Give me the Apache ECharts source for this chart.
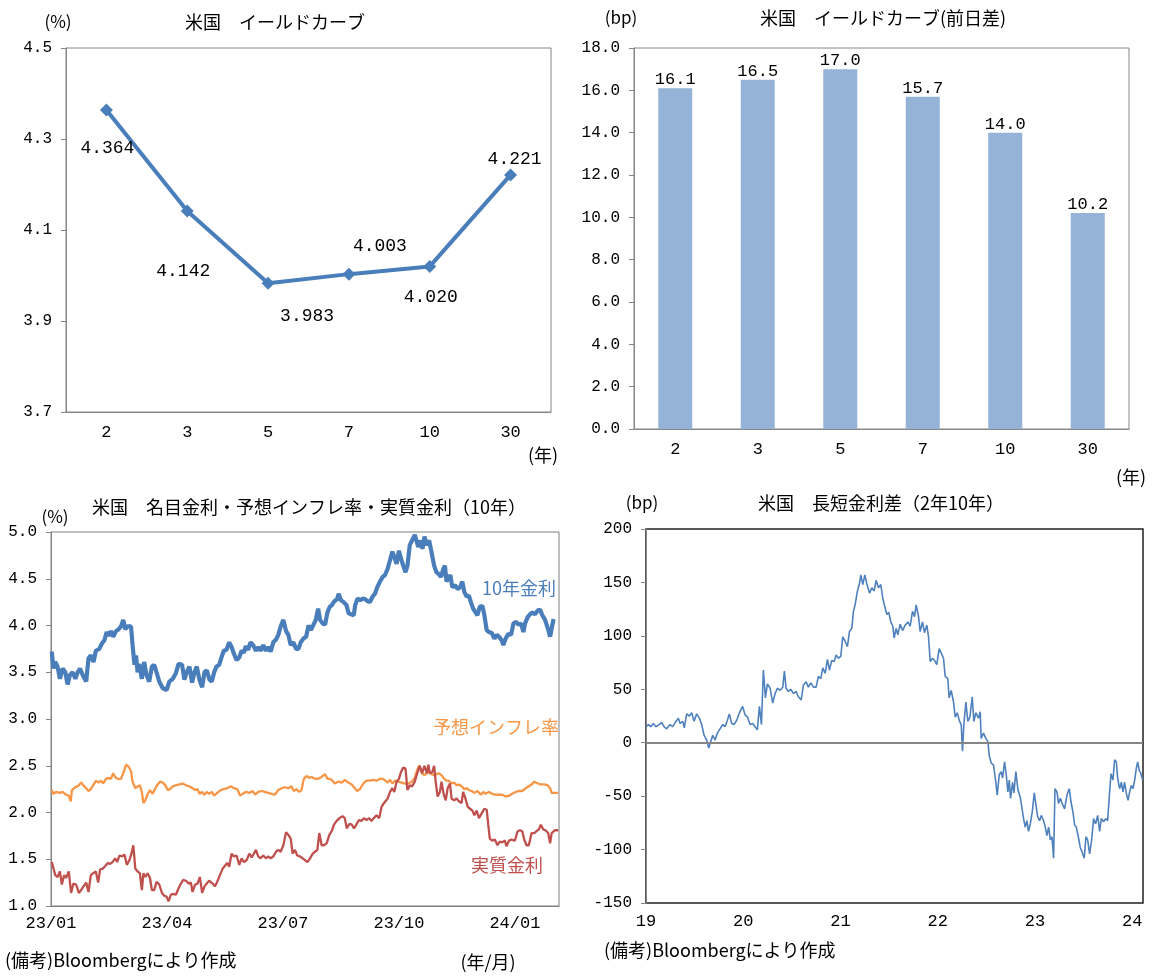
<!DOCTYPE html>
<html>
<head>
<meta charset="UTF-8">
<title>米国 金利</title>
<script src="https://cdn.jsdelivr.net/npm/echarts@6.0.0/dist/echarts.min.js"></script>
<style>
  html, body { margin: 0; padding: 0; background: #fff; }
  #main { width: 1153px; height: 976px; }
</style>
</head>
<body>
<div id="main"></div>
<script>
// イールドカーブ（年限別）
var tenors = ['2', '3', '5', '7', '10', '30'];
var curveYield = [4.364, 4.142, 3.983, 4.003, 4.020, 4.221];
var curveChangeBp = [16.1, 16.5, 17.0, 15.7, 14.0, 10.2];

// 10年: 名目金利・予想インフレ率・実質金利  [月(23/01始点からの月数), %]
var nominal10y = [
  [0.02,3.72],[0.06,3.54],[0.11,3.61],[0.17,3.56],[0.23,3.43],[0.30,3.54],[0.37,3.50],[0.43,3.37],[0.49,3.47],[0.56,3.50],
  [0.63,3.43],[0.69,3.50],[0.75,3.54],[0.82,3.47],[0.91,3.40],[0.97,3.65],[1.03,3.68],[1.10,3.61],[1.16,3.73],[1.25,3.75],
  [1.32,3.81],[1.38,3.84],[1.44,3.93],[1.49,3.89],[1.55,3.94],[1.61,3.88],[1.68,3.94],[1.75,3.96],[1.81,3.99],[1.87,4.06],
  [1.92,3.96],[1.98,3.99],[2.07,3.99],[2.11,3.79],[2.16,3.58],[2.20,3.68],[2.24,3.50],[2.28,3.59],[2.35,3.43],[2.41,3.61],
  [2.47,3.47],[2.54,3.40],[2.61,3.56],[2.67,3.58],[2.73,3.50],[2.80,3.40],[2.89,3.33],[2.99,3.31],[3.06,3.40],[3.15,3.43],
  [3.23,3.49],[3.30,3.59],[3.39,3.58],[3.45,3.42],[3.51,3.50],[3.58,3.56],[3.65,3.39],[3.71,3.50],[3.77,3.56],[3.84,3.42],
  [3.91,3.34],[3.97,3.50],[4.03,3.52],[4.10,3.42],[4.16,3.40],[4.22,3.50],[4.28,3.56],[4.35,3.58],[4.41,3.66],[4.47,3.73],
  [4.54,3.74],[4.61,3.82],[4.67,3.77],[4.73,3.70],[4.80,3.63],[4.87,3.66],[4.93,3.73],[4.99,3.71],[5.04,3.78],[5.10,3.74],
  [5.16,3.82],[5.23,3.79],[5.30,3.73],[5.36,3.77],[5.42,3.73],[5.49,3.79],[5.56,3.73],[5.62,3.77],[5.68,3.72],[5.75,3.82],
  [5.82,3.85],[5.88,3.90],[5.94,3.99],[6.01,4.06],[6.08,3.94],[6.14,3.90],[6.20,3.79],[6.27,3.82],[6.34,3.75],[6.40,3.75],
  [6.46,3.82],[6.53,3.86],[6.60,3.88],[6.66,4.00],[6.72,3.95],[6.78,4.00],[6.85,4.06],[6.91,4.18],[6.96,4.06],[7.03,4.02],
  [7.09,4.01],[7.15,4.14],[7.21,4.20],[7.27,4.22],[7.33,4.26],[7.40,4.28],[7.44,4.34],[7.50,4.27],[7.57,4.25],[7.64,4.22],
  [7.70,4.13],[7.76,4.12],[7.83,4.11],[7.87,4.22],[7.93,4.29],[8.00,4.27],[8.07,4.29],[8.13,4.28],[8.19,4.26],[8.25,4.25],
  [8.32,4.31],[8.38,4.34],[8.44,4.41],[8.51,4.47],[8.58,4.52],[8.64,4.54],[8.71,4.61],[8.77,4.70],[8.83,4.79],[8.88,4.73],
  [8.94,4.66],[9.00,4.80],[9.05,4.72],[9.11,4.64],[9.17,4.57],[9.22,4.64],[9.28,4.86],[9.34,4.91],[9.41,4.97],[9.46,4.98],
  [9.50,4.84],[9.56,4.91],[9.61,4.82],[9.66,4.95],[9.72,4.86],[9.78,4.91],[9.84,4.79],[9.91,4.64],[9.97,4.57],[10.03,4.55],
  [10.09,4.52],[10.15,4.61],[10.19,4.64],[10.23,4.47],[10.28,4.45],[10.33,4.54],[10.38,4.41],[10.45,4.43],[10.52,4.39],[10.58,4.41],
  [10.64,4.47],[10.69,4.36],[10.75,4.31],[10.81,4.32],[10.86,4.25],[10.92,4.18],[10.98,4.14],[11.03,4.11],[11.09,4.20],[11.16,4.21],
  [11.21,4.11],[11.27,3.95],[11.33,3.93],[11.40,3.92],[11.47,3.86],[11.53,3.90],[11.59,3.88],[11.66,3.84],[11.70,3.79],[11.76,3.86],
  [11.83,3.91],[11.90,3.90],[11.96,4.02],[12.02,4.04],[12.09,4.01],[12.16,4.02],[12.22,3.93],[12.26,4.02],[12.33,4.09],[12.39,4.12],
  [12.45,4.14],[12.52,4.12],[12.59,4.16],[12.65,4.17],[12.71,4.11],[12.78,4.06],[12.85,3.97],[12.91,3.88],[12.95,3.97],[13.00,4.07]
];
var breakeven10y = [
  [0.02,2.24],[0.06,2.20],[0.13,2.22],[0.22,2.21],[0.30,2.22],[0.39,2.19],[0.46,2.18],[0.51,2.12],[0.54,2.24],[0.63,2.27],
  [0.72,2.29],[0.78,2.32],[0.84,2.29],[0.91,2.26],[0.97,2.23],[1.03,2.25],[1.09,2.29],[1.16,2.34],[1.23,2.32],[1.29,2.34],
  [1.35,2.31],[1.42,2.36],[1.49,2.37],[1.55,2.36],[1.61,2.42],[1.66,2.38],[1.72,2.36],[1.81,2.36],[1.87,2.42],[1.94,2.51],
  [2.01,2.49],[2.07,2.44],[2.11,2.33],[2.18,2.26],[2.24,2.28],[2.30,2.29],[2.35,2.22],[2.39,2.10],[2.44,2.13],[2.50,2.20],
  [2.56,2.24],[2.63,2.20],[2.70,2.26],[2.76,2.30],[2.82,2.33],[2.89,2.32],[2.96,2.29],[3.02,2.24],[3.08,2.25],[3.15,2.28],
  [3.23,2.29],[3.32,2.30],[3.41,2.31],[3.49,2.29],[3.58,2.28],[3.66,2.26],[3.73,2.24],[3.79,2.25],[3.84,2.20],[3.91,2.22],
  [3.97,2.19],[4.03,2.22],[4.09,2.20],[4.16,2.22],[4.22,2.18],[4.30,2.21],[4.39,2.24],[4.47,2.25],[4.56,2.26],[4.65,2.28],
  [4.73,2.26],[4.82,2.25],[4.89,2.18],[4.96,2.20],[5.04,2.22],[5.13,2.21],[5.22,2.23],[5.28,2.19],[5.36,2.22],[5.45,2.23],
  [5.53,2.22],[5.62,2.21],[5.71,2.20],[5.79,2.19],[5.88,2.24],[5.97,2.26],[6.05,2.27],[6.14,2.26],[6.22,2.28],[6.28,2.23],
  [6.35,2.25],[6.42,2.22],[6.48,2.24],[6.54,2.36],[6.61,2.39],[6.68,2.37],[6.74,2.38],[6.83,2.36],[6.91,2.36],[7.00,2.38],
  [7.09,2.41],[7.15,2.36],[7.22,2.36],[7.28,2.34],[7.34,2.31],[7.43,2.33],[7.52,2.32],[7.60,2.35],[7.69,2.32],[7.78,2.30],
  [7.86,2.26],[7.92,2.23],[7.99,2.25],[8.08,2.31],[8.16,2.34],[8.25,2.34],[8.34,2.35],[8.42,2.34],[8.51,2.36],[8.59,2.36],
  [8.71,2.32],[8.77,2.35],[8.83,2.31],[8.90,2.34],[8.98,2.33],[9.07,2.32],[9.16,2.31],[9.24,2.31],[9.33,2.33],[9.40,2.36],
  [9.46,2.44],[9.52,2.50],[9.59,2.42],[9.66,2.40],[9.72,2.42],[9.78,2.43],[9.84,2.41],[9.91,2.40],[9.97,2.41],[10.03,2.42],
  [10.10,2.40],[10.17,2.36],[10.23,2.34],[10.29,2.34],[10.36,2.31],[10.43,2.32],[10.49,2.29],[10.55,2.30],[10.62,2.28],[10.69,2.25],
  [10.75,2.26],[10.81,2.24],[10.88,2.23],[10.95,2.21],[11.03,2.23],[11.12,2.19],[11.18,2.22],[11.24,2.20],[11.33,2.22],[11.41,2.20],
  [11.50,2.19],[11.59,2.19],[11.67,2.19],[11.76,2.17],[11.85,2.18],[11.93,2.20],[12.02,2.22],[12.10,2.23],[12.19,2.23],[12.28,2.26],
  [12.36,2.28],[12.43,2.30],[12.50,2.33],[12.59,2.31],[12.67,2.30],[12.76,2.30],[12.85,2.29],[12.91,2.26],[12.95,2.21],[13.03,2.21],
  [13.12,2.21]
];
var real10y = [
  [0.02,1.47],[0.06,1.47],[0.11,1.33],[0.17,1.31],[0.23,1.37],[0.28,1.23],[0.34,1.33],[0.39,1.30],[0.46,1.37],[0.52,1.14],
  [0.58,1.24],[0.65,1.23],[0.72,1.14],[0.78,1.17],[0.84,1.21],[0.91,1.25],[0.97,1.15],[1.03,1.33],[1.09,1.35],[1.16,1.37],
  [1.22,1.25],[1.27,1.39],[1.34,1.40],[1.41,1.43],[1.47,1.46],[1.53,1.45],[1.59,1.47],[1.66,1.51],[1.71,1.47],[1.77,1.54],
  [1.84,1.53],[1.90,1.55],[1.96,1.44],[2.03,1.49],[2.08,1.56],[2.13,1.65],[2.18,1.40],[2.24,1.37],[2.30,1.35],[2.35,1.17],
  [2.39,1.35],[2.44,1.31],[2.50,1.35],[2.56,1.30],[2.61,1.17],[2.67,1.17],[2.73,1.26],[2.80,1.23],[2.87,1.14],[2.93,1.11],
  [2.99,1.10],[3.04,1.05],[3.10,1.12],[3.16,1.13],[3.23,1.12],[3.30,1.19],[3.36,1.24],[3.42,1.28],[3.49,1.27],[3.56,1.24],
  [3.62,1.25],[3.66,1.15],[3.73,1.23],[3.79,1.24],[3.85,1.31],[3.91,1.14],[3.97,1.21],[4.03,1.24],[4.09,1.27],[4.18,1.24],
  [4.24,1.21],[4.30,1.26],[4.37,1.33],[4.44,1.40],[4.50,1.43],[4.56,1.46],[4.61,1.42],[4.67,1.56],[4.73,1.53],[4.80,1.54],
  [4.87,1.44],[4.93,1.51],[4.99,1.47],[5.06,1.49],[5.13,1.56],[5.19,1.52],[5.25,1.56],[5.30,1.60],[5.36,1.53],[5.42,1.51],
  [5.49,1.54],[5.56,1.51],[5.62,1.53],[5.68,1.51],[5.75,1.53],[5.82,1.58],[5.88,1.60],[5.94,1.58],[6.01,1.65],[6.08,1.79],
  [6.14,1.76],[6.20,1.72],[6.25,1.56],[6.31,1.60],[6.37,1.54],[6.44,1.53],[6.51,1.51],[6.57,1.49],[6.63,1.47],[6.70,1.51],
  [6.77,1.56],[6.83,1.58],[6.89,1.60],[6.94,1.78],[7.00,1.65],[7.06,1.65],[7.13,1.67],[7.20,1.76],[7.26,1.80],[7.32,1.87],
  [7.39,1.91],[7.46,1.94],[7.54,1.96],[7.60,1.94],[7.65,1.83],[7.72,1.88],[7.78,1.87],[7.84,1.83],[7.91,1.88],[7.97,1.92],
  [8.03,1.91],[8.09,1.94],[8.16,1.92],[8.23,1.94],[8.29,1.91],[8.35,1.94],[8.42,1.97],[8.49,1.94],[8.55,2.06],[8.61,2.10],
  [8.71,2.15],[8.77,2.22],[8.83,2.26],[8.88,2.22],[8.94,2.33],[9.00,2.36],[9.05,2.43],[9.11,2.48],[9.17,2.47],[9.22,2.24],
  [9.28,2.29],[9.34,2.28],[9.41,2.33],[9.48,2.43],[9.54,2.50],[9.60,2.42],[9.66,2.50],[9.72,2.42],[9.76,2.51],[9.80,2.42],
  [9.86,2.43],[9.91,2.50],[9.95,2.33],[10.00,2.17],[10.06,2.22],[10.10,2.33],[10.16,2.19],[10.21,2.13],[10.26,2.26],[10.32,2.31],
  [10.36,2.15],[10.43,2.13],[10.49,2.15],[10.55,2.12],[10.62,2.10],[10.66,2.22],[10.72,2.15],[10.78,2.06],[10.84,2.04],[10.90,2.02],
  [10.95,1.97],[11.01,2.02],[11.07,1.94],[11.14,1.99],[11.21,2.04],[11.27,2.03],[11.31,1.87],[11.35,1.72],[11.41,1.70],[11.48,1.71],
  [11.55,1.65],[11.61,1.69],[11.67,1.68],[11.74,1.70],[11.78,1.64],[11.85,1.70],[11.91,1.71],[12.00,1.70],[12.07,1.80],[12.13,1.81],
  [12.19,1.80],[12.24,1.71],[12.30,1.65],[12.36,1.65],[12.43,1.78],[12.50,1.78],[12.56,1.80],[12.62,1.82],[12.67,1.87],[12.73,1.82],
  [12.79,1.81],[12.86,1.78],[12.91,1.67],[12.95,1.78],[13.03,1.81],[13.12,1.81]
];

// 長短金利差（2年10年）  [年, bp]
var spread2s10s = [
  [2019.000,15],[2019.024,17],[2019.048,15],[2019.075,18],[2019.103,15],[2019.137,17],[2019.161,19],[2019.185,15],[2019.213,13],[2019.247,17],
  [2019.274,15],[2019.309,20],[2019.333,23],[2019.350,18],[2019.377,20],[2019.394,14],[2019.418,27],[2019.446,25],[2019.470,28],[2019.494,20],
  [2019.521,27],[2019.549,23],[2019.573,17],[2019.597,7],[2019.624,2.5],[2019.645,-5],[2019.665,1],[2019.686,7],[2019.710,2.5],[2019.734,9],
  [2019.761,13],[2019.789,17],[2019.813,15],[2019.837,21],[2019.857,27],[2019.881,18],[2019.905,17],[2019.933,21],[2019.960,28],[2019.994,34],
  [2020.019,26],[2020.043,24],[2020.070,17],[2020.097,18],[2020.121,15],[2020.145,12],[2020.166,34],[2020.187,17],[2020.207,68],[2020.228,42],
  [2020.248,55],[2020.276,51],[2020.303,37],[2020.327,46],[2020.351,51],[2020.379,49],[2020.406,52],[2020.423,67],[2020.440,51],[2020.464,48],
  [2020.488,50],[2020.516,46],[2020.543,48],[2020.567,43],[2020.595,40],[2020.619,54],[2020.646,57],[2020.670,52],[2020.694,56],[2020.722,52],
  [2020.749,52],[2020.773,62],[2020.797,60],[2020.818,70],[2020.842,65],[2020.866,78],[2020.886,68],[2020.910,77],[2020.934,76],[2020.955,82],
  [2020.979,79],[2021.003,81],[2021.023,99],[2021.047,95],[2021.071,90],[2021.092,104],[2021.116,107],[2021.133,123],[2021.150,129],[2021.174,142],
  [2021.195,149],[2021.209,157],[2021.229,148],[2021.250,157],[2021.270,149],[2021.298,140],[2021.322,145],[2021.346,142],[2021.366,152],[2021.390,145],
  [2021.414,148],[2021.435,135],[2021.459,126],[2021.476,120],[2021.497,122],[2021.517,113],[2021.538,109],[2021.551,98],[2021.572,107],[2021.589,101],
  [2021.613,111],[2021.637,105],[2021.665,110],[2021.692,113],[2021.716,109],[2021.740,123],[2021.761,118],[2021.778,129],[2021.802,118],[2021.819,104],
  [2021.843,113],[2021.863,103],[2021.887,110],[2021.905,99],[2021.922,76],[2021.946,79],[2021.966,77],[2021.990,73],[2022.014,88],[2022.035,84],
  [2022.059,79],[2022.076,62],[2022.103,60],[2022.117,42],[2022.138,49],[2022.162,38],[2022.179,24],[2022.200,28],[2022.224,20],[2022.241,17],
  [2022.254,-8],[2022.268,17],[2022.289,38],[2022.309,20],[2022.330,24],[2022.354,43],[2022.371,20],[2022.392,28],[2022.419,23],[2022.436,29],
  [2022.446,4],[2022.470,9],[2022.494,4],[2022.515,1],[2022.529,-12],[2022.549,-19],[2022.573,-21],[2022.597,-37],[2022.611,-49],[2022.632,-30],
  [2022.652,-27],[2022.666,-33],[2022.687,-18],[2022.704,-30],[2022.721,-46],[2022.735,-35],[2022.748,-52],[2022.769,-37],[2022.783,-47],[2022.803,-27],
  [2022.824,-44],[2022.848,-51],[2022.865,-52],[2022.882,-71],[2022.899,-79],[2022.916,-73],[2022.933,-83],[2022.951,-76],[2022.971,-65],[2022.992,-47],
  [2023.009,-58],[2023.026,-69],[2023.047,-73],[2023.064,-68],[2023.088,-73],[2023.105,-79],[2023.122,-87],[2023.140,-79],[2023.157,-91],[2023.174,-88],
  [2023.191,-108],[2023.205,-43],[2023.225,-46],[2023.242,-57],[2023.260,-52],[2023.284,-58],[2023.304,-62],[2023.328,-49],[2023.352,-43],[2023.369,-55],
  [2023.390,-65],[2023.407,-77],[2023.424,-79],[2023.445,-88],[2023.465,-98],[2023.482,-102],[2023.506,-108],[2023.523,-88],[2023.541,-91],[2023.561,-104],
  [2023.582,-91],[2023.602,-71],[2023.623,-76],[2023.644,-68],[2023.664,-83],[2023.681,-71],[2023.705,-74],[2023.726,-71],[2023.746,-73],[2023.767,-46],
  [2023.781,-29],[2023.801,-35],[2023.818,-16],[2023.836,-18],[2023.849,-33],[2023.870,-43],[2023.887,-37],[2023.904,-46],[2023.921,-37],[2023.938,-47],
  [2023.956,-54],[2023.973,-46],[2023.990,-40],[2024.007,-43],[2024.024,-35],[2024.041,-24],[2024.055,-18],[2024.072,-26],[2024.089,-29],[2024.107,-35]
];

var JP = '"Noto Sans CJK JP", sans-serif';
var NUM = '"Liberation Mono", "DejaVu Sans Mono", monospace';
var GRAY = '#868686';

// ラベルの位置調整（点からのずれ）
var curveLabelShift = [[1, 38], [-4, 60], [39, 33], [31, -28], [1, 31], [4, -16]];

function txt(x, y, s, size, color, align) {
  return {
    type: 'text', x: x, y: y, silent: true,
    style: {
      text: s, fill: color || '#000', font: size + 'px ' + JP,
      textAlign: align || 'center', textVerticalAlign: 'middle',
      align: align || 'center', verticalAlign: 'middle'
    }
  };
}

function valueAxis(grid, min, max, step, fmt) {
  return {
    type: 'value', gridIndex: grid, min: min, max: max, interval: step,
    axisLine: { show: true, lineStyle: { color: GRAY, width: 1 } },
    axisTick: { show: true, inside: false, length: 5, lineStyle: { color: GRAY } },
    splitLine: { show: false },
    axisLabel: { color: '#000', fontFamily: NUM, fontSize: 16, margin: 14, formatter: fmt }
  };
}

function monthLabel(v) {
  var m = Math.round(v);
  if (Math.abs(v - m) > 1e-6 || m % 3 !== 0) return '';
  var yy = 23 + Math.floor(m / 12);
  var mm = (m % 12) + 1;
  return yy + '/' + (mm < 10 ? '0' + mm : mm);
}

function yearLabel(v) {
  var y = Math.round(v);
  if (Math.abs(v - y) > 1e-6) return '';
  return String(y).slice(2);
}

var chart = echarts.init(document.getElementById('main'));

var option = {
  animation: false,
  backgroundColor: '#fff',
  grid: [
    { left: 66, top: 48, width: 485, height: 364, show: true, borderColor: GRAY, borderWidth: 1 },
    { left: 634, top: 48, width: 495, height: 381, show: true, borderColor: GRAY, borderWidth: 1 },
    { left: 51, top: 532, width: 508, height: 374, show: true, borderColor: '#7f7f7f', borderWidth: 1 },
    { left: 646, top: 529, width: 497, height: 374, show: true, borderColor: '#222', borderWidth: 1.5 }
  ],
  xAxis: [
    {
      type: 'category', gridIndex: 0, data: tenors, boundaryGap: true,
      axisLine: { lineStyle: { color: GRAY } }, axisTick: { show: false },
      axisLabel: { color: '#000', fontFamily: NUM, fontSize: 17, margin: 12 }
    },
    {
      type: 'category', gridIndex: 1, data: tenors, boundaryGap: true,
      axisLine: { lineStyle: { color: GRAY } }, axisTick: { show: false },
      axisLabel: { color: '#000', fontFamily: NUM, fontSize: 17, margin: 12 }
    },
    {
      type: 'value', gridIndex: 2, min: 0, max: 13.14, interval: 3,
      axisLine: { lineStyle: { color: '#7f7f7f' } }, axisTick: { show: false },
      splitLine: { show: false },
      axisLabel: { color: '#000', fontFamily: NUM, fontSize: 17, margin: 9, formatter: monthLabel }
    },
    {
      type: 'value', gridIndex: 3, min: 2019, max: 2024.11, interval: 1,
      axisLine: { lineStyle: { color: '#222', width: 1.5 } }, axisTick: { show: false },
      splitLine: { show: false },
      axisLabel: { color: '#000', fontFamily: NUM, fontSize: 17, margin: 10, formatter: yearLabel }
    }
  ],
  yAxis: [
    valueAxis(0, 3.7, 4.5, 0.2, function (v) { return v.toFixed(1); }),
    valueAxis(1, 0, 18, 2, function (v) { return v.toFixed(1); }),
    valueAxis(2, 1.0, 5.0, 0.5, function (v) { return v.toFixed(1); }),
    valueAxis(3, -150, 200, 50, function (v) { return String(v); })
  ],
  series: [
    {
      name: 'イールドカーブ', type: 'line', xAxisIndex: 0, yAxisIndex: 0,
      data: curveYield.map(function (v, i) {
        return { value: v, label: { offset: curveLabelShift[i] } };
      }),
      symbol: 'diamond', symbolSize: 13,
      lineStyle: { color: '#4A7EBB', width: 4 },
      itemStyle: { color: '#4A7EBB' },
      label: {
        show: true, position: 'inside', color: '#000', fontFamily: NUM, fontSize: 18,
        formatter: function (p) { return p.value.toFixed(3); }
      },
      z: 3
    },
    {
      name: '前日差', type: 'bar', xAxisIndex: 1, yAxisIndex: 1,
      data: curveChangeBp, barWidth: 34,
      itemStyle: { color: '#95B3D7' },
      label: {
        show: true, position: 'top', distance: 0, color: '#000', fontFamily: NUM, fontSize: 17,
        formatter: function (p) { return p.value.toFixed(1); }
      }
    },
    {
      name: '10年金利', type: 'line', xAxisIndex: 2, yAxisIndex: 2,
      data: nominal10y, showSymbol: false, symbol: 'none',
      lineStyle: { color: '#4A7EBB', width: 4.2 }
    },
    {
      name: '予想インフレ率', type: 'line', xAxisIndex: 2, yAxisIndex: 2,
      data: breakeven10y, showSymbol: false, symbol: 'none',
      lineStyle: { color: '#F79646', width: 2.3 }
    },
    {
      name: '実質金利', type: 'line', xAxisIndex: 2, yAxisIndex: 2,
      data: real10y, showSymbol: false, symbol: 'none',
      lineStyle: { color: '#C0504D', width: 2.3 }
    },
    {
      name: '長短金利差', type: 'line', xAxisIndex: 3, yAxisIndex: 3,
      data: spread2s10s, showSymbol: false, symbol: 'none',
      lineStyle: { color: '#4F81BD', width: 1.6 },
      markLine: {
        silent: true, symbol: ['none', 'none'], label: { show: false },
        lineStyle: { color: GRAY, width: 2, type: 'solid' },
        data: [{ yAxis: 0 }]
      }
    }
  ],
  graphic: [
    txt(58, 22, '(%)', 17),
    txt(275, 22, '米国　イールドカーブ', 18),
    txt(543, 455, '(年)', 18),
    txt(621, 18, '(bp)', 17),
    txt(883, 18, '米国　イールドカーブ(前日差)', 18),
    txt(1131, 477, '(年)', 18),
    txt(309, 507, '米国　名目金利・予想インフレ率・実質金利（10年）', 18),
    txt(55, 517, '(%)', 17),
    txt(519, 588, '10年金利', 18, '#4A7EBB'),
    txt(496, 727, '予想インフレ率', 18, '#F79646'),
    txt(507, 865, '実質金利', 18, '#C0504D'),
    txt(5, 960, '(備考)Bloombergにより作成', 18, '#000', 'left'),
    txt(488, 962, '(年/月)', 18),
    txt(642, 503, '(bp)', 17),
    txt(881, 503, '米国　長短金利差（2年10年）', 18),
    txt(604, 950, '(備考)Bloombergにより作成', 18, '#000', 'left')
  ]
};

chart.setOption(option);
</script>
</body>
</html>
